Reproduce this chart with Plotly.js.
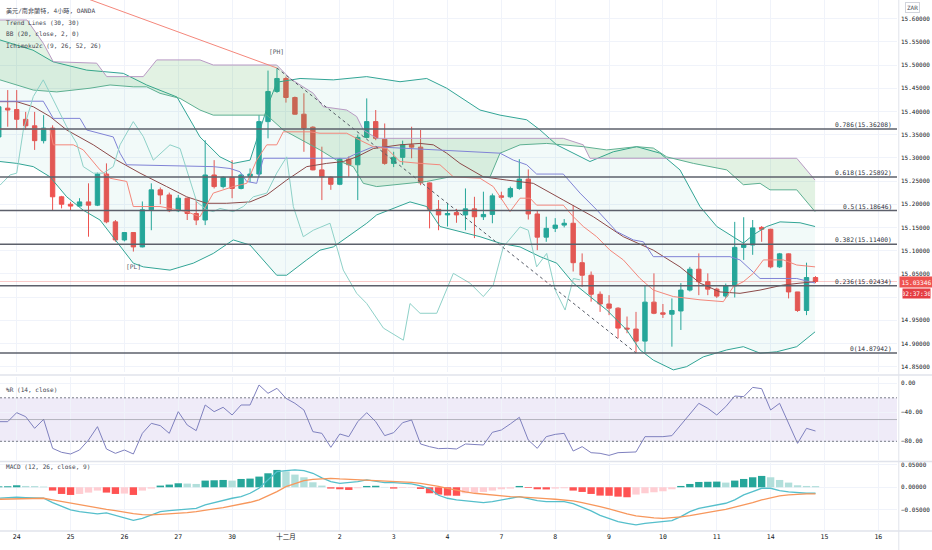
<!DOCTYPE html>
<html>
<head>
<meta charset="utf-8">
<script src="https://cdn.plot.ly/plotly-3.0.1.min.js"></script>
<style>
  html, body { margin: 0; padding: 0; background: #fff; }
  #chart { width: 932px; height: 550px; }
</style>
</head>
<body>
<div id="chart"></div>
<script>
// USD/ZAR 4h candles, bar 0 = first bar of the 24th
const firstBar = -2;
const openP = [15.345,15.407,15.404,15.383,15.369,15.337,15.364,15.216,15.200,15.196,15.205,15.198,15.265,15.162,15.123,15.139,15.108,15.188,15.231,15.220,15.186,15.213,15.180,15.166,15.263,15.238,15.258,15.234,15.260,15.265,15.378,15.443,15.471,15.430,15.394,15.366,15.274,15.258,15.243,15.297,15.285,15.344,15.378,15.340,15.288,15.301,15.328,15.323,15.246,15.189,15.177,15.182,15.177,15.190,15.173,15.178,15.218,15.216,15.234,15.254,15.179,15.129,15.148,15.155,15.159,15.074,15.047,15.006,14.985,14.976,14.933,14.931,14.905,14.989,14.966,14.963,14.970,15.015,15.060,15.033,15.017,15.002,15.024,15.107,15.112,15.150,15.146,15.065,15.093,15.011,14.971,15.042];
const highP = [15.420,15.446,15.446,15.399,15.399,15.392,15.370,15.218,15.205,15.213,15.245,15.268,15.288,15.166,15.140,15.139,15.206,15.245,15.236,15.225,15.220,15.214,15.209,15.338,15.295,15.260,15.295,15.266,15.277,15.392,15.488,15.4935,15.475,15.432,15.439,15.368,15.324,15.260,15.300,15.303,15.350,15.428,15.403,15.374,15.313,15.337,15.367,15.360,15.247,15.209,15.202,15.190,15.234,15.216,15.227,15.223,15.227,15.238,15.297,15.275,15.187,15.173,15.170,15.168,15.198,15.094,15.055,15.012,15.004,14.978,14.958,14.968,15.026,15.051,14.985,14.997,15.030,15.065,15.094,15.051,15.020,15.029,15.162,15.172,15.166,15.153,15.147,15.095,15.094,15.011,15.074,15.045];
const lowP = [15.335,15.367,15.360,15.360,15.317,15.331,15.187,15.191,15.187,15.195,15.130,15.196,15.159,15.119,15.120,15.098,15.107,15.144,15.200,15.183,15.183,15.166,15.155,15.155,15.234,15.234,15.213,15.232,15.248,15.259,15.342,15.440,15.419,15.393,15.313,15.273,15.209,15.231,15.241,15.259,15.209,15.342,15.338,15.285,15.280,15.285,15.299,15.241,15.148,15.144,15.152,15.160,15.144,15.127,15.166,15.159,15.210,15.213,15.231,15.167,15.101,15.119,15.140,15.150,15.055,15.022,14.990,14.968,14.961,14.911,14.922,14.8794,14.880,14.963,14.955,14.893,14.929,15.012,15.004,15.004,14.998,14.998,14.999,15.080,15.091,15.119,15.062,15.063,14.997,14.968,14.961,15.030];
const closeP = [15.410,15.403,15.383,15.369,15.337,15.364,15.216,15.200,15.196,15.205,15.198,15.265,15.162,15.123,15.139,15.108,15.188,15.231,15.220,15.186,15.213,15.180,15.166,15.263,15.238,15.258,15.234,15.263,15.265,15.378,15.443,15.471,15.430,15.394,15.364,15.274,15.259,15.243,15.297,15.285,15.344,15.378,15.342,15.288,15.301,15.328,15.323,15.246,15.189,15.177,15.180,15.177,15.190,15.173,15.178,15.218,15.215,15.234,15.254,15.179,15.129,15.148,15.155,15.159,15.074,15.047,15.006,14.985,14.976,14.933,14.931,14.905,14.989,14.965,14.963,14.971,15.015,15.060,15.033,15.017,15.002,15.024,15.107,15.112,15.149,15.146,15.065,15.093,15.011,14.971,15.042,15.03346];

// Bollinger (20, 2)
const bbUpperX = [-1.86,1.82,4.04,7.8,11.88,14.48,17.86,20.42,22.65,24.13,26,27.1,28,29,31.57,35.28,38.99,42.71,45.68,47.91,49.39,51.62,53.85,56.82,58.31,60.17,63.87,66.47,69.08,71.68,73.9,76.13,78.0,80.96,82.07,83.56,85.05,87.28,88.95];
const bbUpperY = [15.554,15.532,15.507,15.489,15.482,15.457,15.431,15.345,15.302,15.288,15.295,15.360,15.414,15.463,15.471,15.468,15.475,15.464,15.471,15.450,15.432,15.403,15.392,15.382,15.360,15.328,15.292,15.313,15.324,15.310,15.274,15.195,15.152,15.116,15.134,15.152,15.162,15.160,15.152];
const bbLowerX = [-1.86,0,1.85,3.71,5.57,7.42,9.28,10.95,12.99,14.1,17.08,19.68,21.91,24.13,26,28.97,30.08,32.31,33.79,35.28,37.14,39.0,40.11,43.82,45.68,47.16,49.39,51.62,53.85,56.08,58.31,60.17,62.02,63.88,65.74,67.97,69.45,70.93,73.16,74.65,76.5,79.11,80.96,82.82,84.68,86.91,88.95];
const bbLowerY = [15.292,15.288,15.281,15.259,15.216,15.187,15.166,15.123,15.073,15.065,15.058,15.073,15.094,15.123,15.112,15.047,15.047,15.080,15.101,15.108,15.134,15.159,15.177,15.205,15.195,15.152,15.141,15.130,15.116,15.108,15.087,15.073,15.030,15.001,14.972,14.929,14.886,14.864,14.843,14.850,14.871,14.886,14.893,14.879,14.882,14.893,14.925];
const bbBasisX = [-1.86,0,1.85,3.71,5.57,8.54,11.14,13.74,16.71,18.94,21.17,23.4,26,27.86,30.08,32.31,34.54,36.39,37.88,39.73,42.71,44.94,46.42,47.91,49.39,51.99,54.6,57.56,60.9,64.25,67.59,70.93,73.9,76.13,78.36,80.59,82.82,85.42,87.28,88.95];
const bbBasisY = [15.421,15.421,15.410,15.389,15.360,15.328,15.295,15.267,15.238,15.216,15.202,15.202,15.205,15.220,15.252,15.281,15.288,15.292,15.302,15.320,15.328,15.331,15.328,15.310,15.288,15.259,15.252,15.245,15.209,15.173,15.130,15.101,15.065,15.030,15.011,15.008,15.015,15.026,15.030,15.033];

// Ichimoku lines
const convX = [-1.86,3.71,4.08,6.31,7.42,9.28,10.4,12.26,12.99,15.97,18.94,20.42,21.9,24.13,25.63,26.74,27.86,28.97,29.7,32.68,33.79,36.77,38.25,39.73,41.23,42.71,44.94,47.16,48.65,51.62,53.1,53.85,54.96,56.08,57.19,57.93,60.9,62.02,63.13,64.62,66.1,67.59,69.45,70.93,73.16,76.13,78.73,79.84,80.96,82.07,83.19,85.42,86.91,88.95];
const convY = [15.362,15.362,15.328,15.328,15.317,15.274,15.256,15.249,15.195,15.195,15.184,15.173,15.224,15.238,15.245,15.295,15.328,15.328,15.356,15.356,15.353,15.353,15.338,15.324,15.320,15.292,15.288,15.285,15.259,15.256,15.238,15.216,15.184,15.213,15.213,15.198,15.198,15.173,15.152,15.130,15.101,15.080,15.040,15.015,15.001,14.994,14.990,15.022,15.033,15.051,15.080,15.080,15.069,15.065];
const baseX = [-1.86,2.96,4.08,7.05,7.8,10.76,11.51,12.26,21.91,23.77,24.88,25.63,26.74,27.48,36.77,37.5,39.73,51.25,53.85,55.34,56.82,57.93,60.9,62.76,64.62,66.85,68.71,69.82,70.93,79.48,80.59,82.82,86.91,88.95];
const baseY = [15.422,15.422,15.385,15.385,15.360,15.345,15.310,15.285,15.281,15.277,15.270,15.249,15.245,15.299,15.299,15.306,15.324,15.313,15.310,15.295,15.285,15.265,15.265,15.224,15.188,15.141,15.123,15.119,15.087,15.087,15.080,15.040,15.040,15.030];
const lagX = [-1.86,-0.75,0,0.74,1.85,2.96,4.08,5.57,6.69,7.42,8.54,9.65,10.76,11.51,12.99,14.1,15.22,17.08,18.2,19.31,20.06,21.17,21.9,22.65,24.13,25.25,26.37,27.86,28.97,30.08,30.82,31.93,33.05,34.91,35.65,36.39,37.88,39.0,40.86,43.08,43.82,44.94,46.8,48.65,50.5,51.99,53.1,54.22,56.08,57.0,57.93,59.05,60.0,61.1,62.02,62.76];
const lagY = [15.241,15.263,15.267,15.360,15.432,15.468,15.425,15.367,15.331,15.281,15.267,15.267,15.281,15.328,15.378,15.346,15.295,15.328,15.320,15.252,15.205,15.188,15.184,15.191,15.184,15.195,15.216,15.224,15.267,15.302,15.195,15.130,15.144,15.159,15.108,15.058,15.008,14.986,14.933,14.907,14.986,14.965,14.965,15.051,15.030,15.001,15.026,15.108,15.151,15.144,15.065,15.094,15.015,14.972,15.040,15.037];
const spanBX = [-1.86,1.15,2.96,4.08,8.91,10.03,14.1,15.6,20.42,21.9,28.97,30.45,33.05,34.16,36.77,37.88,38.62,40.11,60.9,63.13,63.87,86.91,88.95];
const spanBY = [15.597,15.597,15.547,15.507,15.504,15.475,15.475,15.511,15.511,15.500,15.500,15.471,15.439,15.410,15.403,15.389,15.360,15.342,15.342,15.328,15.299,15.299,15.252];
const spanAX = [-1.86,1.85,4.46,8.17,10.4,12.99,14.48,15.97,18.2,20.42,21.9,27.86,29.7,33.79,35.65,37.5,38.62,40.11,45.68,48.28,52.74,53.85,56.08,59.05,63.13,65.74,69.08,70.93,72.42,75.39,79.11,80.96,82.82,83.93,86.91,88.95];
const spanAY = [15.468,15.446,15.442,15.450,15.457,15.453,15.453,15.439,15.428,15.403,15.392,15.392,15.360,15.317,15.295,15.281,15.245,15.238,15.249,15.259,15.259,15.310,15.328,15.331,15.324,15.317,15.324,15.321,15.302,15.288,15.274,15.242,15.245,15.231,15.231,15.184];

// drawings
const trendX = [8, 29];
const trendY = [15.642, 15.4935];
const swingX = [29, 69];
const swingY = [15.4935, 14.87942];
const fibRatio = ['0', '0.236', '0.382', '0.5', '0.618', '0.786'];
const fibPrice = [14.87942, 15.02434, 15.11400, 15.18646, 15.25892, 15.36208];
const lastPrice = 15.03346;

// Williams %R (14)
const willR = [-52.9,-52.9,-40.5,-46.0,-62.1,-49.7,-89.7,-95.2,-97.5,-92.0,-78.2,-59.8,-90.6,-96.6,-92.0,-97.5,-69.0,-55.2,-58.4,-69.0,-39.1,-57.5,-65.3,-29.9,-39.1,-33.1,-43.7,-29.9,-29.9,-2.3,-13.8,-6.9,-20.7,-27.6,-36.8,-66.7,-69.0,-88.3,-69.9,-73.6,-52.9,-40.5,-52.9,-72.2,-68.1,-54.3,-50.6,-83.7,-87.4,-90.1,-89.7,-90.6,-83.7,-84.5,-85.1,-67.6,-64.4,-56.0,-46.9,-78.2,-89.7,-73.6,-70.4,-69.0,-93.4,-87.4,-95.7,-96.6,-99.4,-95.7,-95.7,-94.7,-73.6,-73.6,-73.6,-72.2,-57.5,-43.7,-27.6,-34.5,-43.7,-32.2,-17.5,-18.4,-5.6,-7.4,-36.8,-27.6,-55.2,-82.8,-62.1,-65.8];

// MACD (12, 26, 9)
const macdLine = [-0.0242,-0.0228,-0.0220,-0.0228,-0.0235,-0.0242,-0.0338,-0.0426,-0.0499,-0.0536,-0.0558,-0.0587,-0.0565,-0.0624,-0.0675,-0.0727,-0.0683,-0.0609,-0.0536,-0.0514,-0.0499,-0.0485,-0.0463,-0.0389,-0.0338,-0.0279,-0.0242,-0.0206,-0.0132,-0.0022,0.0154,0.0345,0.0367,0.0382,0.0367,0.0308,0.0206,0.0125,0.0088,0.0103,0.0125,0.0162,0.0140,0.0103,0.0103,0.0095,0.0073,0.0029,-0.0029,-0.0176,-0.0242,-0.0279,-0.0294,-0.0316,-0.0338,-0.0316,-0.0279,-0.0242,-0.0206,-0.0250,-0.0294,-0.0316,-0.0316,-0.0316,-0.0360,-0.0433,-0.0521,-0.0617,-0.0690,-0.0756,-0.0793,-0.0830,-0.0793,-0.0778,-0.0756,-0.0734,-0.0646,-0.0536,-0.0463,-0.0426,-0.0389,-0.0352,-0.0279,-0.0169,-0.0095,-0.0022,-0.0022,-0.0073,-0.0103,-0.0125,-0.0132,-0.0132];
const signalLine = [-0.0264,-0.0257,-0.0250,-0.0242,-0.0242,-0.0242,-0.0279,-0.0316,-0.0352,-0.0389,-0.0426,-0.0455,-0.0485,-0.0514,-0.0551,-0.0580,-0.0602,-0.0609,-0.0595,-0.0587,-0.0573,-0.0558,-0.0536,-0.0514,-0.0477,-0.0448,-0.0411,-0.0374,-0.0330,-0.0279,-0.0191,-0.0095,0.0015,0.0088,0.0147,0.0176,0.0191,0.0198,0.0184,0.0176,0.0169,0.0162,0.0147,0.0140,0.0132,0.0125,0.0110,0.0088,0.0059,0.0022,-0.0022,-0.0066,-0.0103,-0.0132,-0.0154,-0.0176,-0.0191,-0.0206,-0.0213,-0.0220,-0.0235,-0.0250,-0.0264,-0.0279,-0.0301,-0.0338,-0.0374,-0.0426,-0.0477,-0.0536,-0.0587,-0.0631,-0.0661,-0.0675,-0.0683,-0.0675,-0.0653,-0.0624,-0.0595,-0.0558,-0.0521,-0.0485,-0.0441,-0.0389,-0.0338,-0.0279,-0.0228,-0.0191,-0.0169,-0.0154,-0.0147,-0.0147];
const macdHist = [0.0020,0.0022,0.0044,0.0029,0.0026,0.0015,-0.0073,-0.0147,-0.0169,-0.0147,-0.0117,-0.0073,-0.0117,-0.0147,-0.0139,-0.0169,-0.0073,-0.0029,0.0037,0.0059,0.0088,0.0081,0.0073,0.0147,0.0154,0.0161,0.0147,0.0183,0.0191,0.0235,0.0308,0.0382,0.0352,0.0279,0.0220,0.0110,0.0037,-0.0029,-0.0044,-0.0059,-0.0022,0.0029,0.0033,0.0007,-0.0029,-0.0015,-0.0011,-0.0037,-0.0132,-0.0161,-0.0183,-0.0187,-0.0132,-0.0117,-0.0103,-0.0073,-0.0044,-0.0029,0.0029,-0.0015,-0.0044,-0.0048,-0.0029,-0.0022,-0.0073,-0.0103,-0.0147,-0.0183,-0.0187,-0.0206,-0.0220,-0.0161,-0.0132,-0.0110,-0.0088,-0.0044,0.0029,0.0073,0.0117,0.0121,0.0125,0.0103,0.0147,0.0183,0.0220,0.0250,0.0220,0.0161,0.0103,0.0044,0.0029,0.0026];

// axis labels
const dayTicks = [0,6,12,18,24,30,36,42,48,54,60,66,72,78,84,90,96];
const dayLabels = ['24','25','26','27','30','十二月','2','3','4','7','8','9','10','11','14','15','16'];
const priceTicks = [15.60,15.55,15.50,15.45,15.40,15.35,15.30,15.25,15.20,15.15,15.10,15.05,15.00,14.95,14.90,14.85];
const hiddenTick = 15.00; // sits under the last-price tag

const FONT = 'DejaVu Sans Mono, Noto Sans CJK TC, monospace';
const bars = openP.map((_, k) => k + firstBar);

const histColors = macdHist.map((v, k) => {
    const prev = k > 0 ? macdHist[k - 1] : v;
    if (v >= 0) return v >= prev ? '#26A69A' : '#B2DFDB';
    return v < prev ? '#FF5252' : '#FFCDD2';
});

function line(x, y, color, extra) {
    return Object.assign({ x, y, type: 'scatter', mode: 'lines', xaxis: 'x', yaxis: 'y',
        line: { color, width: 1 }, hoverinfo: 'skip' }, extra || {});
}

const traces = [
    line(bbUpperX, bbUpperY, '#32A596'),
    line(bbLowerX, bbLowerY, '#32A596', { fill: 'tonexty', fillcolor: 'rgba(38,166,154,0.06)' }),
    line(spanBX, spanBY, '#B99AC4'),
    line(spanAX, spanAY, '#5EB092', { fill: 'tonexty', fillcolor: 'rgba(76,175,80,0.16)' }),
    line(bbBasisX, bbBasisY, '#8C4A4A'),
    line(baseX, baseY, '#8083D6'),
    line(convX, convY, '#F4877B'),
    line(lagX, lagY, '#8ED1C8'),
    line(trendX, trendY, '#F4877B'),
    line(swingX, swingY, '#555A66', { line: { color: '#555A66', width: 1, dash: '3px,3px' } }),
    {
        type: 'candlestick', x: bars, open: openP, high: highP, low: lowP, close: closeP,
        xaxis: 'x', yaxis: 'y', whiskerwidth: 0, hoverinfo: 'skip',
        increasing: { line: { color: '#26A69A', width: 1 }, fillcolor: '#26A69A' },
        decreasing: { line: { color: '#EF5350', width: 1 }, fillcolor: '#EF5350' }
    },
    { x: bars, y: willR, type: 'scatter', mode: 'lines', xaxis: 'x', yaxis: 'y2',
      line: { color: '#7F81BF', width: 1 }, hoverinfo: 'skip' },
    { x: bars, y: macdHist, type: 'bar', xaxis: 'x', yaxis: 'y3', width: 0.82,
      marker: { color: histColors, line: { width: 0 } }, hoverinfo: 'skip' },
    { x: bars, y: macdLine, type: 'scatter', mode: 'lines', xaxis: 'x', yaxis: 'y3',
      line: { color: '#55BFCB', width: 1.3 }, hoverinfo: 'skip' },
    { x: bars, y: signalLine, type: 'scatter', mode: 'lines', xaxis: 'x', yaxis: 'y3',
      line: { color: '#F7975C', width: 1.3 }, hoverinfo: 'skip' }
];

const shapes = [];
// %R band and levels
shapes.push({ type: 'rect', xref: 'paper', x0: 0, x1: 1, yref: 'y2', y0: -20, y1: -80,
    fillcolor: 'rgba(126,87,194,0.12)', line: { width: 0 }, layer: 'below' });
[-20, -80].forEach(v => shapes.push({ type: 'line', xref: 'paper', x0: 0, x1: 1, yref: 'y2', y0: v, y1: v,
    line: { color: '#787B86', width: 1, dash: '2px,2px' } }));
shapes.push({ type: 'line', xref: 'paper', x0: 0, x1: 1, yref: 'y2', y0: -50, y1: -50,
    line: { color: 'rgba(120,123,134,0.5)', width: 1 } });
// fib levels
fibPrice.forEach(p => shapes.push({ type: 'line', xref: 'paper', x0: 0, x1: 1, yref: 'y', y0: p, y1: p,
    line: { color: '#5D606B', width: 1.5 } }));
// last price line
shapes.push({ type: 'line', xref: 'paper', x0: 0, x1: 1, yref: 'y', y0: lastPrice, y1: lastPrice,
    line: { color: 'rgba(239,83,80,0.3)', width: 1 } });
// pane separators and axis borders
[0.2938, 0.1309, 0].forEach(v => shapes.push({ type: 'line', xref: 'paper', x0: 0, x1: 1.04,
    yref: 'paper', y0: v, y1: v, line: { color: '#E0E3EB', width: 1.5 } }));
shapes.push({ type: 'line', xref: 'paper', x0: 1.002, x1: 1.002, yref: 'paper', y0: -0.04, y1: 1,
    line: { color: '#E0E3EB', width: 1 } });

const annotations = [];
const legendLines = ['美元/南非蘭特, 4小時, OANDA', 'Trend Lines (30, 30)', 'BB (20, close, 2, 0)', 'Ichimoku2c (9, 26, 52, 26)'];
const legendY = [0.979, 0.957, 0.936, 0.915];
legendLines.forEach((t, k) => annotations.push({ text: t, xref: 'paper', yref: 'paper', x: 0.004, y: legendY[k],
    xanchor: 'left', yanchor: 'middle', showarrow: false, font: { size: 6.1, color: '#434651' } }));
annotations.push({ text: '%R (14, close)', xref: 'paper', yref: 'paper', x: 0.004, y: 0.2668,
    xanchor: 'left', yanchor: 'middle', showarrow: false, font: { size: 6.1, color: '#434651' } });
annotations.push({ text: 'MACD (12, 26, close, 9)', xref: 'paper', yref: 'paper', x: 0.004, y: 0.1224,
    xanchor: 'left', yanchor: 'middle', showarrow: false, font: { size: 6.1, color: '#434651' } });
fibPrice.forEach((p, k) => annotations.push({ text: fibRatio[k] + '(' + p.toFixed(5) + ')',
    xref: 'paper', yref: 'y', x: 0.996, y: p, xanchor: 'right', yanchor: 'bottom', showarrow: false,
    borderpad: 0, font: { size: 6.3, color: '#2A2E39' } }));
annotations.push({ text: '[PH]', xref: 'x', yref: 'y', x: swingX[0], y: swingY[0], yshift: 17,
    showarrow: false, font: { size: 6.3, color: '#555A66' } });
annotations.push({ text: '[PL]', xref: 'x', yref: 'y', x: 13, y: lowP[13 - firstBar], yshift: -15,
    showarrow: false, font: { size: 6.3, color: '#555A66' } });
annotations.push({ text: lastPrice.toFixed(5), xref: 'paper', yref: 'y', x: 1.002, y: lastPrice,
    xanchor: 'left', yanchor: 'middle', showarrow: false, bgcolor: '#EF5350', width: 33, height: 10,
    borderpad: 0, font: { size: 6.2, color: '#FFFFFF' } });
annotations.push({ text: '02:37:30', xref: 'paper', yref: 'y', x: 1.006, y: lastPrice, yshift: -12,
    xanchor: 'left', yanchor: 'middle', showarrow: false, bgcolor: '#E53E44', width: 27, height: 9,
    borderpad: 0, font: { size: 6.2, color: '#FFFFFF' } });
annotations.push({ text: 'ZAR', xref: 'paper', yref: 'paper', x: 1.0168, y: 0.985,
    xanchor: 'center', yanchor: 'middle', showarrow: false, bordercolor: '#D1D4DC', borderwidth: 1,
    borderpad: 1, bgcolor: '#FFFFFF', font: { size: 6, color: '#434651' } });

const gridColor = '#F0F3FA';
const tickFont = { size: 6, color: '#131722' };
const layout = {
    width: 932, height: 550,
    margin: { l: 0, r: 35, t: 0, b: 19 },
    paper_bgcolor: '#FFFFFF', plot_bgcolor: '#FFFFFF',
    showlegend: false, hovermode: false, boxgap: 0.3,
    font: { family: FONT, size: 6.5, color: '#131722' },
    xaxis: { range: [-1.86, 98.08], anchor: 'y3', tickvals: dayTicks, ticktext: dayLabels,
        showgrid: true, gridcolor: gridColor, zeroline: false, ticks: '', showline: false,
        rangeslider: { visible: false }, tickfont: { size: 6.5, color: '#131722' }, fixedrange: true },
    yaxis: { domain: [0.2994, 1], range: [14.8384, 15.6401], side: 'right', anchor: 'x',
        tickvals: priceTicks, ticktext: priceTicks.map(v => v === hiddenTick ? '' : v.toFixed(5)),
        showgrid: true, gridcolor: gridColor, zeroline: false, ticks: '', ticklabelstandoff: 3,
        tickfont: tickFont },
    yaxis2: { domain: [0.1337, 0.29], range: [-105.8, 8.7], side: 'right', anchor: 'x',
        tickvals: [0, -40, -80], tickformat: '.2f', showgrid: true, gridcolor: gridColor,
        zeroline: false, ticks: '', ticklabelstandoff: 3, tickfont: tickFont },
    yaxis3: { domain: [0, 0.1281], range: [-0.0963, 0.0535], side: 'right', anchor: 'x',
        tickvals: [0.05, 0, -0.05], tickformat: '.5f', showgrid: true, gridcolor: gridColor,
        zeroline: false, ticks: '', ticklabelstandoff: 3, tickfont: tickFont },
    shapes, annotations
};

Plotly.newPlot('chart', traces, layout, { displayModeBar: false, staticPlot: true });
</script>
</body>
</html>
